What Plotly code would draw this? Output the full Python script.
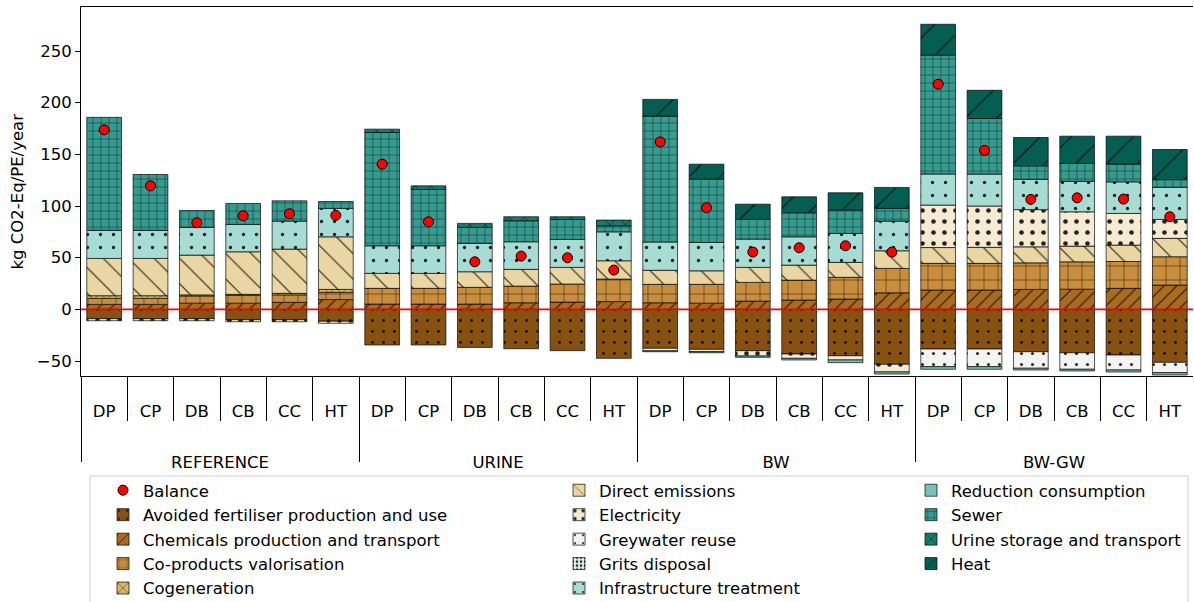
import numpy as np
import plotly.graph_objects as go

# ---- categories -------------------------------------------------------------
groups = ["REFERENCE", "URINE", "BW", "BW-GW"]
scenarios = ["DP", "CP", "DB", "CB", "CC", "HT"]

# ---- contributions per scenario (kg CO2-Eq/PE/year) -------------------------
avoided_fertiliser = [-9, -9, -9, -10, -10, -11.5,
                      -34.5, -34.5, -36.8, -38.1, -40, -47.4,
                      -37.7, -38.7, -40, -43.2, -44.9, -53.2,
                      -38.4, -38.4, -41, -42, -44.2, -51.3]
chemicals = [4.8, 4.8, 6, 6, 6.8, 9.5,
             5.1, 5.1, 5.1, 6.4, 7, 7.5,
             6.4, 6, 8, 9, 10, 16,
             18.7, 18.7, 19.3, 19.5, 20.3, 23.5]
co_products = [5.8, 5.8, 7, 7.5, 7.2, 7,
               15.2, 15.2, 16.2, 16.1, 17.5, 21.8,
               17.8, 18.2, 18.1, 19.3, 21, 23.6,
               25.8, 25.8, 25.7, 26.5, 26, 27.4]
cogeneration = [2.6, 2.6, 1, 1, 1.5, 2.8,
                0, 0, 0, 0, 0, 0,
                0, 0, 0, 0, 0, 0,
                0, 0, 0, 0, 0, 0]
direct_emissions = [36.1, 36.1, 38.5, 41.2, 42.8, 50.9,
                    14.5, 14.5, 15.1, 16.2, 16.1, 17.7,
                    13.6, 13.1, 14.5, 14.5, 14.5, 17.1,
                    15.3, 15.5, 15.5, 15.2, 15.9, 17.8]
electricity = [-2, -2, -2, -2, -2, -2,
               0, 0, 0, 0, 0, 0,
               -2.5, -2.3, -5.2, -4.2, -4.1, -7.4,
               41.1, 40, 36, 33.2, 30.6, 18.3]
greywater_reuse = [0, 0, 0, 0, 0, 0,
                   0, 0, 0, 0, 0, 0,
                   0, 0, 0, 0, 0, 0,
                   -17.1, -17.1, -16, -16, -14.5, -10]
grits_disposal = [0, 0, 0, 0, 0, 0,
                  0, 0, 0, 0, 0, 0,
                  0, 0, 0, 0, 0, 0,
                  0, 0, 0, 0, 0, 0]
infrastructure = [27.1, 27.1, 26.8, 26.5, 27.1, 27.5,
                  26.7, 26.7, 27.4, 26.7, 27.1, 28,
                  27.4, 27.5, 27.4, 27.4, 28, 28.7,
                  30.1, 30.9, 29.2, 29.5, 30.6, 31]
reduction_consumption = [0, 0, 0, 0, 0, 0,
                         0, 0, 0, 0, 0, 0,
                         -0.8, -1, -1.2, -1.6, -2.6, -2,
                         -2.5, -2.5, -1.7, -1.6, -1.9, -2.2]
sewer = [109.4, 54.1, 16.4, 20.3, 19.6, 6.7,
         109.7, 54.5, 15.5, 20.3, 19.3, 5.9,
         121.8, 61.2, 19, 23.2, 22.5, 12.3,
         115, 53.8, 13.2, 17.3, 17.1, 7.5]
urine_storage = [0, 0, 0, 0, 0, 0,
                 3.2, 3.5, 3.9, 3.9, 2.6, 5.5,
                 0, 0, 0, 0, 0, 0,
                 0, 0, 0, 0, 0, 0]
heat = [0, 0, 0, 0, 0, 0,
        0, 0, 0, 0, 0, 0,
        16.2, 14.5, 14.8, 15.5, 16.8, 20.3,
        29.9, 27.3, 27.4, 26.4, 27.1, 29.2]
balance = [173.7, 119.5, 83.8, 90.5, 92.5, 90.9,
           140.5, 84.7, 46, 51.5, 49.9, 38,
           162, 98.3, 55.4, 59.6, 61.5, 55.4,
           217.9, 153.8, 106.4, 107.9, 106.7, 89.6]

y_ticks = [-50, 0, 50, 100, 150, 200, 250]
y_title = "kg CO2-Eq/PE/year"

# ---- positions --------------------------------------------------------------
n_sc = len(scenarios)
pos = np.arange(len(groups) * n_sc)
sub_labels = scenarios * len(groups)
group_centers = [i * n_sc + (n_sc - 1) / 2 for i in range(len(groups))]
inner_bounds = [p + 0.5 for p in pos[:-1] if (p + 1) % n_sc != 0]
group_bounds = [i * n_sc - 0.5 for i in range(len(groups))]
x_range = [pos[0] - 0.5, pos[-1] + 0.5]

FONT = "DejaVu Sans"
FS = 16.5

# name, values, colour, pattern shape, pattern size, solidity, legend column
series = [
    ("Avoided fertiliser production and use", avoided_fertiliser, "#87510f", ".", 11, 0.05, "legend"),
    ("Chemicals production and transport", chemicals, "#a96b20", "/", 9, 0.11, "legend"),
    ("Co-products valorisation", co_products, "#c88e3e", "+", 14, 0.07, "legend"),
    ("Cogeneration", cogeneration, "#d8b76b", "x", 9, 0.12, "legend"),
    ("Direct emissions", direct_emissions, "#ead6a3", "\\", 18, 0.06, "legend2"),
    ("Electricity", electricity, "#f6ebd2", ".", 11, 0.14, "legend2"),
    ("Greywater reuse", greywater_reuse, "#f3f3f1", ".", 11, 0.06, "legend2"),
    ("Grits disposal", grits_disposal, "#dcefeb", ".", 5, 0.3, "legend2"),
    ("Infrastructure treatment", infrastructure, "#a7dcd4", ".", 13, 0.05, "legend2"),
    ("Reduction consumption", reduction_consumption, "#74c3b6", "", 8, 0.1, "legend3"),
    ("Sewer", sewer, "#379b8f", "+", 8, 0.1, "legend3"),
    ("Urine storage and transport", urine_storage, "#1b7a6f", "x", 11, 0.1, "legend3"),
    ("Heat", heat, "#045e52", "/", 22, 0.05, "legend3"),
]

fig = go.Figure()

fig.add_trace(go.Scatter(
    x=pos, y=balance, mode="markers", name="Balance",
    marker=dict(color="#ff0000", size=10, line=dict(color="black", width=1)),
    xaxis="x2", yaxis="y", legend="legend", legendgroup="Balance",
))

for name, vals, color, shape, size, sol, leg in series:
    yv = [v if v != 0 else None for v in vals]
    fig.add_trace(go.Bar(
        x=pos, y=yv, name=name, width=0.75,
        marker=dict(
            color=color,
            line=dict(color="rgba(0,0,0,0.85)", width=0.8),
            pattern=dict(shape=shape, size=size, solidity=sol,
                         fgcolor="black", fgopacity=0.85, fillmode="overlay"),
        ),
        legend=leg, legendgroup=name,
    ))

legend_common = dict(
    font=dict(family=FONT, size=FS, color="black"),
    bgcolor="rgba(0,0,0,0)", orientation="v",
    xref="container", yref="container",
    xanchor="left", yanchor="top", traceorder="grouped",
    tracegroupgap=0, itemwidth=30,
)
legend_top = 1 - 473 / 602

fig.update_layout(
    width=1194, height=602,
    margin=dict(l=81, r=1, t=7, b=226, autoexpand=False),
    plot_bgcolor="white", paper_bgcolor="white",
    barmode="relative", bargap=0.25,
    font=dict(family=FONT, size=FS, color="black"),
    showlegend=True,
    legend=dict(x=103 / 1194, y=legend_top, **legend_common),
    legend2=dict(x=559 / 1194, y=legend_top, **legend_common),
    legend3=dict(x=911 / 1194, y=legend_top, **legend_common),
    xaxis=dict(
        range=x_range, tickmode="array", tickvals=pos, ticktext=sub_labels,
        ticks="", ticklabelstandoff=20, showgrid=False, zeroline=False,
        showline=True, linecolor="black", linewidth=1, mirror=True,
        tickfont=dict(family=FONT, size=FS, color="black"),
        minor=dict(tickmode="array", tickvals=inner_bounds, ticks="outside",
                   ticklen=44, tickwidth=1, tickcolor="black", showgrid=False),
    ),
    xaxis2=dict(
        range=x_range, overlaying="x", anchor="y", side="bottom",
        tickmode="array", tickvals=group_centers, ticktext=groups,
        ticks="", ticklabelstandoff=74, showgrid=False, zeroline=False,
        showline=False,
        tickfont=dict(family=FONT, size=FS, color="black"),
        minor=dict(tickmode="array", tickvals=group_bounds, ticks="outside",
                   ticklen=85, tickwidth=1, tickcolor="black", showgrid=False),
    ),
    yaxis=dict(
        range=[-64.5, 292.6], tickmode="array", tickvals=y_ticks,
        ticks="outside", ticklen=5, tickwidth=1, tickcolor="black",
        showgrid=False, zeroline=False, showline=True, linecolor="black",
        linewidth=1, mirror=False,
        tickfont=dict(family=FONT, size=FS, color="black"),
    ),
    annotations=[
        dict(text=y_title, xref="paper", yref="paper", x=0, y=0.5,
             xshift=-64, textangle=-90, showarrow=False,
             xanchor="center", yanchor="middle",
             font=dict(family=FONT, size=FS, color="black")),
    ],
    shapes=[
        # zero reference line
        dict(type="line", xref="paper", x0=0, x1=1, yref="y", y0=0, y1=0,
             line=dict(color="#ff0000", width=1.6), layer="above"),
        # legend frame
        dict(type="rect", xref="paper", x0=0.0081, x1=0.9955,
             yref="paper", y0=-0.271, y1=-0.66,
             line=dict(color="#cccccc", width=1), fillcolor="rgba(0,0,0,0)",
             layer="below"),
    ],
)

fig.write_html("out.html")
